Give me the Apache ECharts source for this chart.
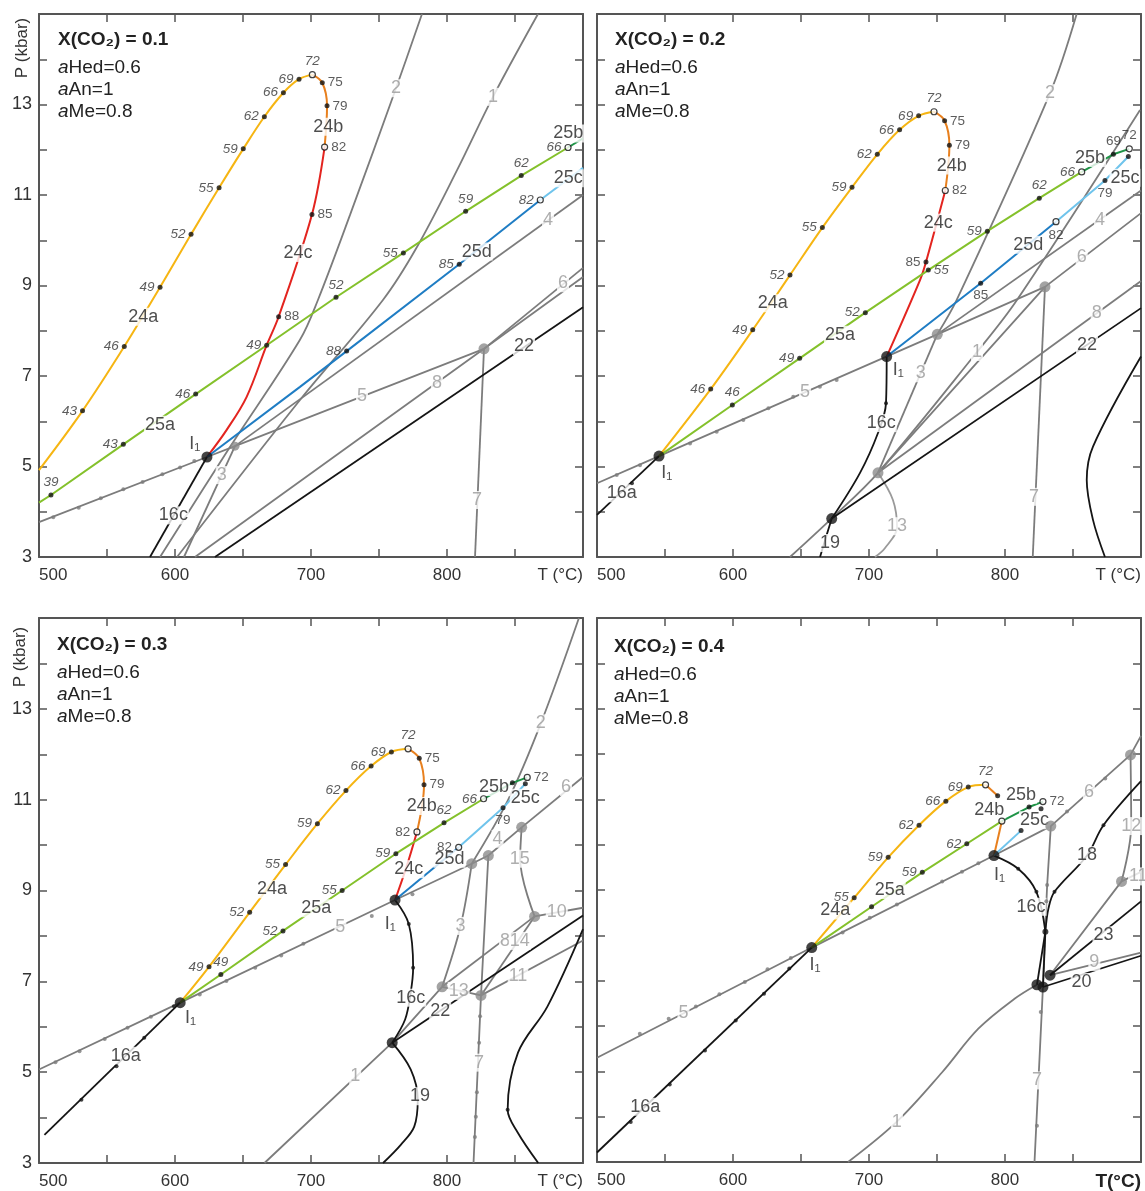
<!DOCTYPE html>
<html><head><meta charset="utf-8">
<script src="https://cdn.jsdelivr.net/npm/echarts@6/dist/echarts.min.js"></script>
<style>html,body{margin:0;padding:0;background:#fff}#c{width:1145px;height:1191px}</style>
</head><body><div id="c"></div><script>
// Phase relations in T–P space for four fluid compositions X(CO2).
// Points are [T (°C), P (kbar), tag, hollow]; tag is the printed value next to the point.

// ---------- X(CO2) = 0.1 ----------
const A_I1 = [623.5, 5.21], A_J = [644.1, 5.45], A_N8 = [827.2, 7.6];
const A_24a = [[500,4.92],[532,6.23,'43'],[562.7,7.65,'46'],[589,8.96,'49'],[611.8,10.13,'52'],[632.4,11.16,'55'],[650.2,12.02,'59'],[665.7,12.73,'62'],[679.7,13.26,'66'],[691.2,13.56,'69'],[701,13.66,'72',1]];
const A_24b = [[701,13.66],[708.3,13.48,'75'],[711.8,12.97,'79'],[710,12.06,'82',1]];
const A_24c = [[710,12.06],[700.7,10.57,'85'],[676.2,8.31,'88'],[667.4,7.68],[652.7,6.54],[638,5.81],A_I1];
const A_25a = [[500,4.2],[508.8,4.37,'39'],[562,5.49,'43'],[615.2,6.6,'46'],[667.4,7.68,'49'],[718.4,8.74,'52'],[767.9,9.72,'55'],[813.7,10.64,'59'],[854.6,11.43,'62'],[889,12.05,'66',1]];
const A_25b = [[889,12.05],[900,12.25]];
const A_25d = [A_I1,[691.9,6.76],[726.2,7.55,'88'],[809,9.47,'85'],[868.6,10.89,'82',1]];
const A_25c = [[868.6,10.89],[900,11.6]];
const A_L1 = [[601.5,3],[691.9,6.47],[752.9,8.68],[777.9,9.85],[807.4,11.55],[833.8,13.17],[866.9,15]];
const A_L2 = [[589,3],[640.4,5.43],[691.9,7.8],[705.1,8.68],[728.7,10.56],[762.5,13.36],[781.6,15]];
const A_L3 = [A_J,[606.6,3]];
const A_L4 = [A_J,[900,11.0]];
const A_L5 = [[500,3.77],A_I1,A_J,A_N8];
const A_L6 = [A_N8,[900,9.39]];
const A_L7 = [A_N8,[820.6,3]];
const A_L8 = [[614.7,3],A_N8,[900,9.19]];
const A_L16c = [A_I1,[581.6,3]];
const A_L22 = [[629.4,3],[900,8.52]];
const A_L5dots = [[510.5,3.88],[529.2,4.09],[545.4,4.3],[562,4.5],[576.2,4.66],[590.7,4.83],[603.7,4.98],[614.2,5.12]];
const A_names = [['24a',576.7,8.31],['24b',712.7,12.51],['24c',690.4,9.72],['25a',589,5.92],['25b',889.2,12.36],['25c',889.2,11.37],['25d',821.8,9.75],['16c',598.8,3.92],['22',856.6,7.66]];
const A_greyNames = [['1',833.8,13.17],['2',762.5,13.36],['3',634.3,4.81],['4',874.3,10.45],['5',737.5,6.55],['6',885.3,9.05],['7',822,4.26],['8',792.6,6.85]];
const A_inv = [['I₁',614.5,5.5]];

// ---------- X(CO2) = 0.2 ----------
const B_I1a = [545.6,5.23], B_I1b = [713,7.43], B_J = [750.2,7.92], B_N8 = [829.4,8.97], B_N13 = [706.6,4.86], B_N19 = [672.6,3.85];
const B_24a = [B_I1a,[583.6,6.71,'46'],[614.5,8.02,'49'],[641.9,9.23,'52'],[665.7,10.28,'55'],[687.5,11.17,'59'],[706.1,11.9,'62'],[722.5,12.44,'66'],[736.5,12.75,'69'],[747.8,12.84,'72',1]];
const B_24b = [[747.8,12.84],[755.6,12.64,'75'],[759.1,12.1,'79'],[756.1,11.1,'82',1]];
const B_24c = [[756.1,11.1],[741.9,9.52,'85'],[737.5,9.12],B_I1b];
const B_25a = [B_I1a,[599.5,6.36,'46'],[649,7.39,'49'],[697.3,8.4,'52'],[743.6,9.34,'55'],[787,10.2,'59'],[825.2,10.93,'62'],[856.4,11.51,'66',1]];
const B_25b = [[856.4,11.51],[879.7,11.9,'69'],[891.4,12.02,'72',1]];
const B_25d = [B_I1b,[782.1,9.05,'85'],[837.5,10.41,'82',1]];
const B_25c = [[837.5,10.41],[873.5,11.32,'79'],[890.7,11.85,'']];
const B_L1 = [[641.9,3],[672.8,3.86],[706.6,4.86],[779.4,7.53],[808.8,8.68],[899.3,12.88]];
const B_L2 = [B_J,[764.5,8.68],[833.1,13.25],[852.7,15]];
const B_L3 = [B_N13,B_J];
const B_L4 = [B_J,[900,11.1]];
const B_L5 = [[500,4.63],B_I1a,B_J,B_N8];
const B_L6 = [B_N13,B_N8,[900,10.6]];
const B_L7 = [B_N8,[820.4,3]];
const B_L8 = [B_N13,[900,9.1]];
const B_L13 = [B_N13,[717.6,4.26],[720.6,3.66],[711.8,3.2],[704.4,3]];
const B_L16a = [B_I1a,[500,3.93]];
const B_L16c = [B_I1b,[712.5,6.4],[706.6,5.74],[693.4,4.86],B_N19];
const B_L19 = [B_N19,[668.5,3.45],[664,3]];
const B_L22 = [B_N19,[900,8.5]];
const B_Lcurve = [[900,7.43],[864.7,5.44],[860.1,4.7],[864.7,3.82],[873.5,3]];
const B_L5dots = [[514.5,4.81],[531.6,5.03],[568.4,5.51],[588,5.77],[607.6,6.03],[626,6.29],[644.3,6.54],[663.9,6.76],[676.2,6.91]];
const B_Ldots = [[525.7,4.63],[712.5,6.4]];
const B_names = [['24a',629.2,8.61],['24b',760.8,11.65],['24c',751,10.39],['25a',678.7,7.91],['25b',862.5,11.82],['25c',888.2,11.38],['25d',817.1,9.9],['16a',518.2,4.41],['16c',709,5.96],['19',671.3,3.31],['22',860.3,7.68]];
const B_greyNames = [['1',779.4,7.53],['2',833.1,13.25],['3',738,7.06],['4',869.9,10.45],['5',652.9,6.64],['6',856.4,9.62],['7',821.3,4.33],['8',867.4,8.4],['13',720.6,3.68]];
const B_inv = [['I₁',551.3,4.85],['I₁',721.5,7.13]];

// ---------- X(CO2) = 0.3 ----------
const C_I1a = [603.8,6.53], C_I1b = [761.8,8.79], C_N19 = [759.7,5.65], C_N13 = [796.4,6.88], C_J = [818.2,9.59], C_Jb = [830.4,9.77], C_N15 = [854.9,10.39], C_N7 = [825,6.69], C_N10 = [864.4,8.43];
const C_24a = [C_I1a,[625,7.32,'49'],[654.9,8.52,'52'],[681.3,9.57,'55'],[704.7,10.47,'59'],[725.7,11.2,'62'],[744.2,11.74,'66'],[759.1,12.05,'69'],[771.4,12.12,'72',1]];
const C_24b = [[771.4,12.12],[779.6,11.91,'75'],[783.1,11.33,'79'],[777.9,10.29,'82',1]];
const C_24c = [[777.9,10.29],[770,9.5],C_I1b];
const C_25a = [C_I1a,[633.7,7.15,'49'],[679.4,8.11,'52'],[722.9,9.0,'55'],[762.4,9.81,'59'],[797.8,10.49,'62'],[826.9,11.02,'66',1]];
const C_25b = [[826.9,11.02],[848.1,11.37,''],[859,11.49,'72',1]];
const C_25d = [C_I1b,[808.6,9.95,'82',1]];
const C_25c = [[808.6,9.95],[841.2,10.82,'79'],[857.6,11.35,'']];
const C_L1 = [[665.8,3],C_N19,C_N13];
const C_L2 = [C_J,[845,11.0],[869,12.68],[897,15]];
const C_L3 = [C_N13,[810,8.22],C_J];
const C_L4 = [C_Jb,C_N15];
const C_L5 = [[500,5.06],C_I1a,C_I1b,C_J,C_Jb];
const C_L6 = [C_N15,[900,11.5]];
const C_L7 = [C_Jb,C_N7,[819.5,3]];
const C_L8 = [C_N13,C_N10];
const C_L10 = [C_N10,[900,8.62]];
const C_L11 = [C_N7,[900,7.9]];
const C_L13 = [C_N13,C_N7];
const C_L14 = [C_N7,C_N10];
const C_L15 = [C_N15,[853.8,9.69],C_N10];
const C_L16a = [C_I1a,[504,3.62]];
const C_L16c = [C_I1b,[771.9,8.26],[775.1,7.3],[773.3,6.75],[769.2,6.16],C_N19];
const C_L19 = [C_N19,[773.3,5.06],[778.5,4.4],[775.9,3.8],[766,3.4],[753,3]];
const C_L22 = [C_N19,[900,8.45]];
const C_Lcurve = [[900,8.15],[873.9,6.45],[852.2,5.43],[844.6,4.17],[852.2,3.66],[867.1,3]];
const C_L5dots = [[512.1,5.22],[529.8,5.46],[548.3,5.73],[565.1,5.98],[582.3,6.22],[618.2,6.71],[637.8,7.01],[659,7.3],[678.1,7.57],[694.4,7.83],[744.7,8.44],[774.6,8.92]];
const C_Ldots = [[599.2,6.45],[577.4,5.76],[557,5.13],[531.2,4.39],[771.9,8.26],[775.1,7.3],[844.6,4.17]];
const C_L7dots = [[824.3,6.23],[823.6,5.65],[822,4.56],[821.2,4.02],[820.5,3.57]];
const C_names = [['24a',671.3,9.03],['24b',781.4,10.86],['24c',771.9,9.47],['25a',703.9,8.61],['25b',834.6,11.28],['25c',857.6,11.04],['25d',801.8,9.7],['16a',563.8,5.36],['16c',773.3,6.64],['19',780.1,4.47],['22',795,6.34]];
const C_greyNames = [['1',732.5,4.91],['2',869,12.68],['3',810,8.22],['4',837.2,10.14],['5',721.6,8.19],['6',887.5,11.28],['7',823.5,5.21],['8',842.6,7.89],['10',880.7,8.52],['11',852.2,7.12],['13',808.6,6.79],['14',853.5,7.89],['15',853.5,9.7]];
const C_inv = [['I₁',611.4,6.2],['I₁',758.3,8.26]];

// ---------- X(CO2) = 0.4 ----------
const D_I1a = [657.9,7.73], D_I1b = [791.9,9.76], D_N6 = [833.7,10.41], D_N12 = [892.3,11.98], D_N11 = [885.7,9.19];
const D_C1 = [823.5,6.91], D_C2 = [833.1,7.12], D_C3 = [827.9,6.86], D_N16 = [829.7,8.08];
const D_24a = [D_I1a,[689.1,8.83,'55'],[714.1,9.72,'59'],[736.8,10.43,'62'],[756.5,10.96,'66'],[773,11.27,'69'],[785.7,11.32,'72',1]];
const D_24b1 = [[785.7,11.32],[794.6,11.08,'']];
const D_24b2 = [[797.7,10.52],D_I1b];
const D_25a = [D_I1a,[701.9,8.63,''],[739.2,9.39,'59'],[771.9,10.02,'62'],[797.7,10.52,'',1]];
const D_25b = [[797.7,10.52],[817.7,10.83,''],[827.9,10.95,'72',1]];
const D_25c = [D_I1b,[811.8,10.31,'']];
const D_25cEnd = [[826.5,10.79,'']];
const D_L1 = [[684.6,3],[720.5,3.89],[753.8,4.98],[780.4,5.94],[807,6.6],D_C1];
const D_L5 = [[500,5.3],D_I1a,D_I1b,D_N6];
const D_L6 = [D_N6,D_N12,[900,12.4]];
const D_L7 = [D_N6,[831,9.11],[829.5,8.1],D_C3,[821.7,3]];
const D_L9 = [D_C2,[900,7.62]];
const D_L11 = [D_C2,D_N11,[900,9.4]];
const D_L12 = [D_N12,[892.8,10.41],D_N11];
const D_L16a = [D_I1a,[500,3.21]];
const D_L16c = [D_I1b,[809.7,9.47],[823.1,8.96],D_N16];
const D_L16cA = [D_N16,D_C1];
const D_L16cB = [D_N16,D_C3];
const D_L18 = [D_N16,[832,8.6],[836.4,8.96],[860.3,9.76],[872.4,10.43],[900,11.4]];
const D_L20 = [D_C3,[900,7.55]];
const D_L23 = [D_C2,[900,8.75]];
const D_L5dots = [[531.5,5.83],[552.7,6.16],[572.7,6.43],[590,6.7],[608.7,6.97],[625.4,7.25],[642.5,7.5],[680.6,8.06],[700.6,8.39],[720.5,8.68],[753.8,9.19],[768.4,9.4],[780.4,9.59],[845.6,10.73],[873.7,11.46]];
const D_Ldots = [[641.4,7.27],[622.8,6.71],[602,6.12],[579.4,5.46],[553.5,4.71],[524.8,3.88],[809.7,9.47],[823.1,8.96],[836.4,8.96],[872.4,10.43]];
const D_L7dots = [[831,9.11],[830.4,8.75],[826.3,6.31],[823.5,3.8]];
const D_names = [['24a',675.2,8.55],['24b',788.5,10.76],['25a',715.2,9.0],['25b',811.8,11.1],['25c',821.7,10.54],['16a',535.4,4.22],['16c',819.1,8.63],['18',860.3,9.77],['20',856.3,6.97],['23',872.4,8.0]];
const D_greyNames = [['1',720.5,3.89],['5',563.6,6.29],['6',861.7,11.16],['7',823.5,4.8],['9',865.7,7.41],['11',898,9.3],['12',892.8,10.41]];
const D_inv = [['I₁',660.4,7.35],['I₁',795.9,9.33]];

// label sides for the tagged points, in order of appearance
const SIDES = {
  A_24a:'lllllllllt', A_24b:'rrr', A_24c:'rr', A_25a:'tllltlttl', A_25d:'lll',
  B_24a:'llllllllt', B_24b:'rrr', B_24c:'l', B_25a:'tllrltl', B_25b:'tt', B_25d:'bb', B_25c:'bb',
  C_24a:'lllllllt', C_24b:'rrl', C_25a:'tllltl', C_25b:'tr', C_25d:'l', C_25c:'bb',
  D_24a:'lllllt', D_24b1:'r', D_25a:'rllr', D_25b:'rr', D_25c:'r', D_25cEnd:'r'
};

const FONT = '"Liberation Sans", Arial, sans-serif';
const COL = {o:'#f6b512', ob:'#e8801e', r:'#e3241f', g:'#84c12b', gd:'#1f9447', bl:'#6fc4ec', b:'#1f7dc4', grey:'#7c7c7c', greyT:'#9a9a9a', k:'#151515'};
const POS = {l:'left', r:'right', t:'top', b:'bottom'};

const series = [];
function line(g, pts, color, w, smooth) {
  series.push({type:'line', xAxisIndex:g*2, yAxisIndex:g*2, data:pts.map(p=>[p[0],p[1]]), symbol:'none', showSymbol:false,
    smooth: smooth ? 0.35 : false, lineStyle:{color, width:w}, z: color===COL.grey ? 2 : 3, silent:true, animation:false});
}
function marks(g, pts, sideKey, italic) {
  const sides = SIDES[sideKey] || ''; let k = 0; const items = [];
  pts.forEach(p => {
    if (p[2] === undefined) return;
    const s = sides[k++] || 'r';
    items.push({value:[p[0],p[1]], name:p[2], symbolSize: p[3] ? 6 : 5,
      itemStyle: p[3] ? {color:'#fff', borderColor:'#111', borderWidth:1.2} : {color:'#111'},
      label:{position:POS[s]}});
  });
  series.push({type:'scatter', xAxisIndex:g*2, yAxisIndex:g*2, data:items, z:8, silent:true, animation:false,
    label:{show:true, formatter:'{b}', fontSize:13.5, fontStyle: italic ? 'italic' : 'normal', color:'#333', fontFamily:FONT, distance:3}});
}
function dots(g, pts, color, size) {
  series.push({type:'scatter', xAxisIndex:g*2, yAxisIndex:g*2, data:pts.map(p=>[p[0],p[1]]), symbolSize:size,
    itemStyle:{color}, z:7, silent:true, animation:false});
}
function names(g, list, color, size) {
  series.push({type:'scatter', xAxisIndex:g*2, yAxisIndex:g*2, symbolSize:0,
    data:list.map(t=>({value:[t[1],t[2]], name:t[0]})), z:6, silent:true, animation:false,
    label:{show:true, position:'inside', formatter:'{b}', color, fontSize:size, fontFamily:FONT, backgroundColor:'#fff', padding:[0,1]}});
}
function inv(g, list) {
  series.push({type:'scatter', xAxisIndex:g*2, yAxisIndex:g*2, symbolSize:0,
    data:list.map(t=>({value:[t[1],t[2]], name:t[0]})), z:6, silent:true, animation:false,
    label:{show:true, position:'inside', formatter:'{b}', color:'#222', fontSize:18, fontFamily:FONT}});
}

// ---- panel 0 : X(CO2)=0.1 ----
[A_L1,A_L2,A_L3,A_L4,A_L5,A_L6,A_L7,A_L8].forEach(l=>line(0,l,COL.grey,1.8,l===A_L1||l===A_L2));
line(0,A_L16c,COL.k,1.8); line(0,A_L22,COL.k,1.8);
line(0,A_24a,COL.o,2,true); line(0,A_24b,COL.ob,2,true); line(0,A_24c,COL.r,2,true);
line(0,A_25a,COL.g,2); line(0,A_25b,COL.gd,2); line(0,A_25d,COL.b,2); line(0,A_25c,COL.bl,2);
dots(0,A_L5dots,COL.grey,4);
names(0,A_names,'#222',18); names(0,A_greyNames,COL.greyT,18); inv(0,A_inv);
marks(0,A_24a,'A_24a',true); marks(0,A_24b,'A_24b'); marks(0,A_24c,'A_24c'); marks(0,A_25a,'A_25a',true); marks(0,A_25d,'A_25d',true);
dots(0,[A_J],'#8c8c8c',9); dots(0,[A_N8],'#8c8c8c',11); dots(0,[A_I1],COL.k,11);

// ---- panel 1 : X(CO2)=0.2 ----
[B_L1,B_L2,B_L3,B_L4,B_L5,B_L6,B_L7,B_L8].forEach(l=>line(1,l,COL.grey,1.8,l===B_L1||l===B_L2));
line(1,B_L13,COL.greyT,1.8,true);
line(1,B_L16a,COL.k,1.8); line(1,B_L16c,COL.k,1.8,true); line(1,B_L19,COL.k,1.8,true); line(1,B_L22,COL.k,1.8); line(1,B_Lcurve,COL.k,1.8,true);
line(1,B_24a,COL.o,2,true); line(1,B_24b,COL.ob,2,true); line(1,B_24c,COL.r,2,true);
line(1,B_25a,COL.g,2); line(1,B_25b,COL.gd,2); line(1,B_25d,COL.b,2); line(1,B_25c,COL.bl,2);
dots(1,B_L5dots,COL.grey,4); dots(1,B_Ldots,COL.k,4);
names(1,B_names,'#222',18); names(1,B_greyNames,COL.greyT,18); inv(1,B_inv);
marks(1,B_24a,'B_24a',true); marks(1,B_24b,'B_24b'); marks(1,B_24c,'B_24c'); marks(1,B_25a,'B_25a',true); marks(1,B_25b,'B_25b'); marks(1,B_25d,'B_25d'); marks(1,B_25c,'B_25c');
dots(1,[B_J,B_N8,B_N13],'#8c8c8c',11); dots(1,[B_I1a,B_I1b,B_N19],COL.k,11);

// ---- panel 2 : X(CO2)=0.3 ----
[C_L1,C_L2,C_L3,C_L4,C_L5,C_L6,C_L7,C_L8,C_L10,C_L11,C_L13,C_L14,C_L15].forEach(l=>line(2,l,COL.grey,1.8,l===C_L2||l===C_L3||l===C_L15));
line(2,C_L16a,COL.k,1.8); line(2,C_L16c,COL.k,1.8,true); line(2,C_L19,COL.k,1.8,true); line(2,C_L22,COL.k,1.8); line(2,C_Lcurve,COL.k,1.8,true);
line(2,C_24a,COL.o,2,true); line(2,C_24b,COL.ob,2,true); line(2,C_24c,COL.r,2,true);
line(2,C_25a,COL.g,2); line(2,C_25b,COL.gd,2); line(2,C_25d,COL.b,2); line(2,C_25c,COL.bl,2);
dots(2,C_L5dots,COL.grey,4); dots(2,C_L7dots,COL.grey,4); dots(2,C_Ldots,COL.k,4);
names(2,C_names,'#222',18); names(2,C_greyNames,COL.greyT,18); inv(2,C_inv);
marks(2,C_24a,'C_24a',true); marks(2,C_24b,'C_24b'); marks(2,C_25a,'C_25a',true); marks(2,C_25b,'C_25b'); marks(2,C_25d,'C_25d'); marks(2,C_25c,'C_25c');
dots(2,[C_N13,C_J,C_Jb,C_N15,C_N10,C_N7],'#8c8c8c',11); dots(2,[C_I1a,C_I1b,C_N19],COL.k,11);

// ---- panel 3 : X(CO2)=0.4 ----
[D_L1,D_L5,D_L6,D_L7,D_L9,D_L11,D_L12].forEach(l=>line(3,l,COL.grey,1.8,l===D_L1||l===D_L12));
[D_L16a,D_L20,D_L23,D_L16cA,D_L16cB].forEach(l=>line(3,l,COL.k,1.8));
line(3,D_L16c,COL.k,1.8,true); line(3,D_L18,COL.k,1.8,true);
line(3,D_24a,COL.o,2,true); line(3,D_24b1,COL.ob,2); line(3,D_24b2,COL.ob,2);
line(3,D_25a,COL.g,2); line(3,D_25b,COL.gd,2); line(3,D_25c,COL.bl,2);
dots(3,D_L5dots,COL.grey,4); dots(3,D_L7dots,COL.grey,4); dots(3,D_Ldots,COL.k,4);
names(3,D_names,'#222',18); names(3,D_greyNames,COL.greyT,18); inv(3,D_inv);
marks(3,D_24a,'D_24a',true); marks(3,D_24b1,'D_24b1'); marks(3,D_25a,'D_25a',true); marks(3,D_25b,'D_25b'); marks(3,D_25c,'D_25c'); marks(3,D_25cEnd,'D_25cEnd');
dots(3,[D_N6,D_N12,D_N11],'#8c8c8c',11); dots(3,[D_N16],COL.k,6); dots(3,[D_I1a,D_I1b,D_C1,D_C2,D_C3],COL.k,11);

// ---- axes ----
const grids = [
  {left:39, top:14, width:544, height:543},
  {left:597, top:14, width:544, height:543},
  {left:39, top:618, width:544, height:545},
  {left:597, top:618, width:544, height:545}
];
const xAxis = [], yAxis = [];
grids.forEach((gr, g) => {
  const axisLine = {onZero:false, lineStyle:{color:'#555', width:2}};
  const axisTick = {inside:true, length:8, lineStyle:{color:'#555', width:1.5}};
  xAxis.push({type:'value', gridIndex:g, position:'bottom', min:500, max:900, interval:50, axisLine, axisTick, splitLine:{show:false},
    axisLabel:{color:'#333', fontSize:17, fontFamily:FONT, margin:10, showMinLabel:true, showMaxLabel:true, alignMinLabel:'left', alignMaxLabel:'right',
      formatter: v => v === 900 ? (g === 3 ? '{b|T(°C)}' : 'T (°C)') : (v % 100 === 0 ? String(v) : ''),
      rich:{b:{fontWeight:'bold', fontSize:19, fontFamily:FONT, color:'#222'}}}});
  xAxis.push({type:'value', gridIndex:g, position:'top', min:500, max:900, interval:50, axisLine, axisTick, axisLabel:{show:false}, splitLine:{show:false}});
  yAxis.push({type:'value', gridIndex:g, position:'left', min:3, max:15, interval:1, axisLine, axisTick, splitLine:{show:false},
    axisLabel:{show: g % 2 === 0, color:'#333', fontSize:18, fontFamily:FONT, margin:7, formatter: v => (v % 2 === 1 && v <= 13) ? String(v) : ''}});
  yAxis.push({type:'value', gridIndex:g, position:'right', min:3, max:15, interval:1, axisLine, axisTick, axisLabel:{show:false}, splitLine:{show:false}});
});

// ---- panel headings ----
const heads = [['0.1',58,40],['0.2',615,40],['0.3',57,645],['0.4',614,647]];
const graphic = [];
heads.forEach(h => {
  graphic.push({type:'text', x:h[1], y:h[2], silent:true, style:{text:'X(CO₂) = ' + h[0], font:'bold 19px ' + FONT, fill:'#222', verticalAlign:'middle'}});
  ['Hed=0.6','An=1','Me=0.8'].forEach((t, i) => {
    graphic.push({type:'text', x:h[1], y:h[2] + 28 + i * 22, silent:true,
      style:{text:'{i|a}{n|' + t + '}', verticalAlign:'middle', rich:{i:{font:'italic 19px ' + FONT, fill:'#222'}, n:{font:'19px ' + FONT, fill:'#222'}}}});
  });
});
[[22,48],[20,657]].forEach(p => graphic.push({type:'text', x:p[0], y:p[1], rotation:Math.PI/2, silent:true,
  style:{text:'P (kbar)', font:'17px ' + FONT, fill:'#333', align:'center', verticalAlign:'middle'}}));

const chart = echarts.init(document.getElementById('c'), null, {renderer:'canvas'});
chart.setOption({animation:false, backgroundColor:'#fff', grid:grids, xAxis, yAxis, series, graphic});
</script></body></html>
